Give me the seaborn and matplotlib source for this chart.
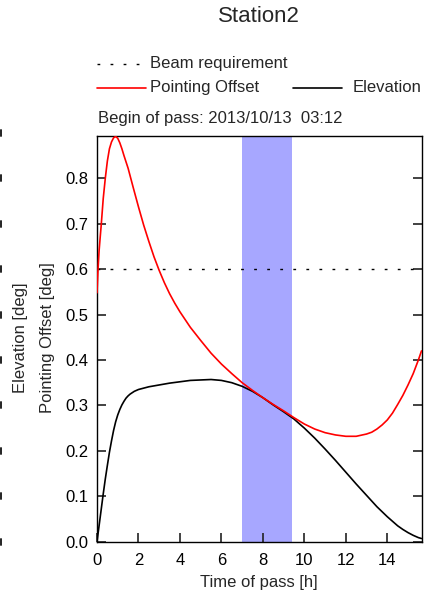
import numpy as np
import pandas as pd
import seaborn as sns
import matplotlib
matplotlib.use("Agg")
import matplotlib.pyplot as plt
from matplotlib.lines import Line2D

# ---- data ----
time_red = [0.0, 0.05, 0.1, 0.15, 0.2, 0.3, 0.4, 0.5, 0.6, 0.7, 0.8, 0.9, 1.0, 1.1, 1.2,
            1.3, 1.4, 1.5, 1.75, 2.0, 2.25, 2.5, 2.75, 3.0, 3.25, 3.5, 3.75, 4.0, 4.5,
            5.0, 5.5, 6.0, 6.5, 7.0, 7.5, 8.0, 8.5, 9.0, 9.5, 10.0, 10.5, 11.0, 11.5,
            12.0, 12.5, 13.0, 13.25, 13.5, 13.75, 14.0, 14.25, 14.5, 14.75, 15.0, 15.25,
            15.5, 15.65]
pointing_offset = [0.548, 0.6, 0.64, 0.668, 0.695, 0.755, 0.8, 0.838, 0.865, 0.88, 0.889,
                   0.892, 0.888, 0.878, 0.865, 0.85, 0.836, 0.822, 0.779, 0.737, 0.697,
                   0.661, 0.627, 0.597, 0.57, 0.546, 0.525, 0.506, 0.472, 0.443, 0.415,
                   0.391, 0.37, 0.35, 0.333, 0.317, 0.302, 0.288, 0.273, 0.259, 0.248,
                   0.24, 0.235, 0.232, 0.232, 0.237, 0.241, 0.248, 0.257, 0.268, 0.283,
                   0.302, 0.322, 0.345, 0.37, 0.4, 0.42]

time_blk = [0.0, 0.1, 0.2, 0.3, 0.4, 0.5, 0.6, 0.7, 0.8, 0.9, 1.0, 1.1, 1.2, 1.3, 1.4,
            1.5, 1.6, 1.8, 2.0, 2.5, 3.0, 3.5, 4.0, 4.5, 5.0, 5.5, 6.0, 6.5, 7.0, 7.5,
            8.0, 8.5, 9.0, 9.5, 10.0, 10.5, 11.0, 11.5, 12.0, 12.5, 13.0, 13.5, 14.0,
            14.25, 14.5, 14.75, 15.0, 15.25, 15.5, 15.65]
elevation = [0.0, 0.035, 0.07, 0.105, 0.138, 0.168, 0.197, 0.222, 0.245, 0.264, 0.279,
             0.291, 0.301, 0.309, 0.316, 0.321, 0.325, 0.331, 0.335, 0.341, 0.345, 0.349,
             0.352, 0.355, 0.356, 0.357, 0.355, 0.35, 0.342, 0.331, 0.317, 0.301, 0.286,
             0.27, 0.25, 0.228, 0.204, 0.179, 0.153, 0.127, 0.102, 0.077, 0.055, 0.045,
             0.035, 0.027, 0.02, 0.014, 0.009, 0.007]

beam_requirement = 0.6
span_window = [7.0, 9.42]
x_ticks = [0, 2, 4, 6, 8, 10, 12, 14]
y_ticks = [0.0, 0.1, 0.2, 0.3, 0.4, 0.5, 0.6, 0.7, 0.8]
edge_ticks = [0.0, 0.1, 0.2, 0.3, 0.4, 0.5, 0.6, 0.7, 0.8, 0.9]

title = "Station2"
begin_text = "Begin of pass: 2013/10/13  03:12"

# ---- styling ----
sns.set_style("white")
plt.rcParams['font.family'] = ['Liberation Sans', 'DejaVu Sans']
plt.rcParams['font.size'] = 12

W, H = 424, 600
fig = plt.figure(figsize=(W / 100, H / 100), dpi=100)
ax_l, ax_r, ax_t, ax_b = 97, 421.5, 136, 541.7
ax = fig.add_axes([ax_l / W, 1 - ax_b / H, (ax_r - ax_l) / W, (ax_b - ax_t) / H])

df_red = pd.DataFrame({"t": time_red, "v": pointing_offset})
df_blk = pd.DataFrame({"t": time_blk, "v": elevation})

ax.axvspan(span_window[0], span_window[1], color="#a7a7ff", lw=0, zorder=0)
ax.axhline(beam_requirement, color="black", lw=1.0, linestyle=(0, (2, 7.4)), zorder=1)
sns.lineplot(data=df_red, x="t", y="v", ax=ax, color="red", lw=1.2, zorder=3)
sns.lineplot(data=df_blk, x="t", y="v", ax=ax, color="black", lw=1.2, zorder=2)

ax.set_xlim(0, 15.65)
ax.set_ylim(0, 0.893)
ax.set_xticks(x_ticks)
ax.set_xticklabels([str(v) for v in x_ticks])
ax.set_yticks(y_ticks)
ax.set_yticklabels([f"{v:.1f}" for v in y_ticks])
ax.set_xlabel("")
ax.set_ylabel("")
for s in ax.spines.values():
    s.set_color("black")
    s.set_linewidth(1.0)
ax.tick_params(axis="both", direction="in", length=6.5, width=1.2, color="#222222",
               labelsize=12, labelcolor="black")
ax.tick_params(axis="y", right=True, left=True, pad=6)
ax.tick_params(axis="x", bottom=True, top=False, pad=8)

# axis labels
fig.text((ax_l + ax_r) / 2 / W, 1 - 582 / H, "Time of pass [h]", ha="center", va="center",
         fontsize=12)
fig.text(21 / W, 1 - 338 / H, "Elevation [deg]", rotation=90, ha="center", va="center",
         fontsize=12)
fig.text(48 / W, 1 - 338 / H, "Pointing Offset [deg]", rotation=90, ha="center",
         va="center", fontsize=12)

# remnants of clipped labels at the left edge
for v in edge_ticks:
    ypx = ax_b - v / 0.893 * (ax_b - ax_t)
    fig.add_artist(Line2D([1.0 / W, 1.0 / W], [1 - (ypx - 3) / H, 1 - (ypx + 3) / H],
                          transform=fig.transFigure, color="#222222", lw=1.4))

# title
fig.text(259 / W, 1 - 16 / H, title, ha="center", va="center", fontsize=16)

# legend (manual)
def fig_line(x0, x1, y, **kw):
    fig.add_artist(Line2D([x0 / W, x1 / W], [1 - y / H, 1 - y / H],
                          transform=fig.transFigure, **kw))

fig_line(97, 140, 63.5, color="black", lw=1.0, linestyle=(0, (2, 7.4)))
fig.text(150 / W, 1 - 63.5 / H, "Beam requirement", ha="left", va="center", fontsize=12)
fig_line(97, 146, 87.5, color="red", lw=1.2)
fig.text(150 / W, 1 - 87.5 / H, "Pointing Offset", ha="left", va="center", fontsize=12)
fig_line(293, 342, 87.5, color="black", lw=1.2)
fig.text(353 / W, 1 - 87.5 / H, "Elevation", ha="left", va="center", fontsize=12)
fig.text(98 / W, 1 - 118 / H, begin_text, ha="left", va="center", fontsize=12)

fig.savefig("out.png", dpi=100)
